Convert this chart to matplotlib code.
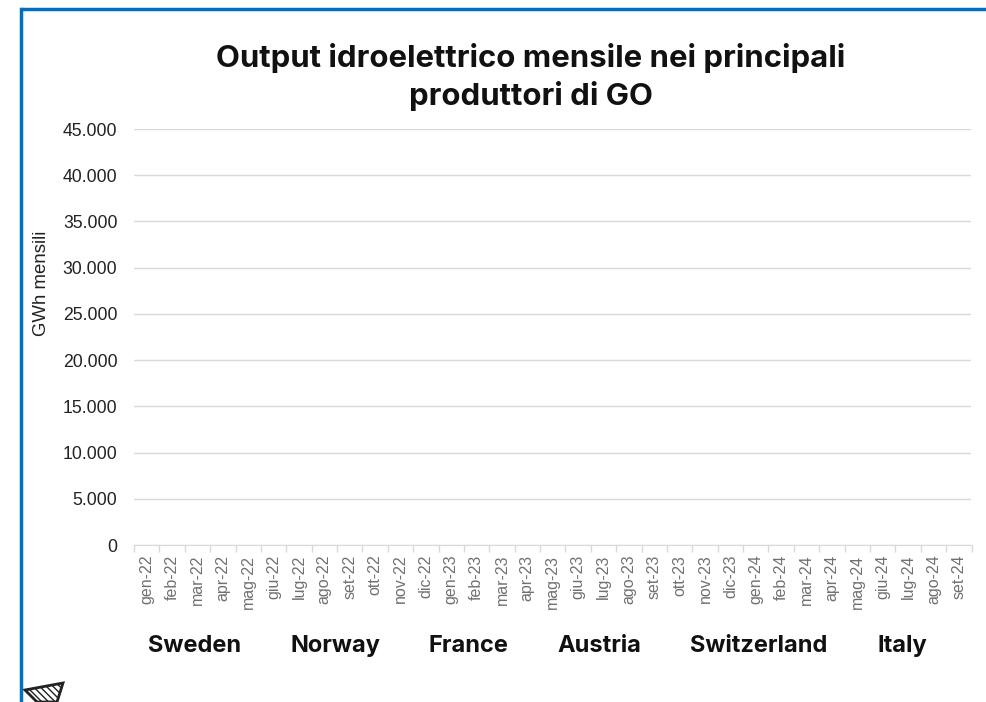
import matplotlib
matplotlib.use('Agg')
import matplotlib.pyplot as plt
from matplotlib.lines import Line2D
from matplotlib.patches import Polygon

W = 987
H = 702

months = ['gen-22', 'feb-22', 'mar-22', 'apr-22', 'mag-22', 'giu-22', 'lug-22', 'ago-22', 'set-22',
          'ott-22', 'nov-22', 'dic-22', 'gen-23', 'feb-23', 'mar-23', 'apr-23', 'mag-23', 'giu-23',
          'lug-23', 'ago-23', 'set-23', 'ott-23', 'nov-23', 'dic-23', 'gen-24', 'feb-24', 'mar-24',
          'apr-24', 'mag-24', 'giu-24', 'lug-24', 'ago-24', 'set-24']
y_ticks = [0, 5000, 10000, 15000, 20000, 25000, 30000, 35000, 40000, 45000]
y_labels = ['0', '5.000', '10.000', '15.000', '20.000', '25.000', '30.000', '35.000', '40.000', '45.000']
countries = ['Sweden', 'Norway', 'France', 'Austria', 'Switzerland', 'Italy']
country_x = [195, 336, 468, 599, 759, 902]  # pixel centres of the labels

fig = plt.figure(figsize=(W/100, H/100), dpi=100)
ax = fig.add_axes([134/W, 1 - 545/H, (971.5 - 134)/W, (545 - 129)/H])

# no series visible in the chart, only the empty axes
ax.set_xlim(-0.5, len(months) - 0.5)
ax.set_ylim(0, 45000)
ax.set_yticks(y_ticks)
ax.set_yticklabels(y_labels, fontsize=12.7, family='Liberation Sans', color='#222222')
ax.set_xticks(range(len(months)))
ax.set_xticklabels(months, rotation=90, fontsize=11.5, family='Liberation Sans', color='#707070')
ax.tick_params(axis='y', length=0, pad=12)
ax.tick_params(axis='x', length=0, pad=7)
# tick marks sit between the months
ax.set_xticks([i - 0.5 for i in range(len(months) + 1)], minor=True)
ax.tick_params(axis='x', which='minor', length=5, width=1, color='#d9d9d9')
ax.grid(axis='y', color='#d9d9d9', lw=1)
ax.set_axisbelow(True)
for s in ['top', 'left', 'right']:
    ax.spines[s].set_visible(False)
ax.spines['bottom'].set_color('#d9d9d9')
ax.set_ylabel('GWh mensili', fontsize=13.4, family='Liberation Sans', color='#222222', va='center')
ax.yaxis.set_label_coords((41 - 134)/(971.5 - 134), (545 - 283)/(545 - 129))

fig.text(531/W, 1 - 67/H, 'Output idroelettrico mensile nei principali', ha='center', va='baseline',
         fontsize=22.4, fontweight='bold', family='Inter', color='#111111')
fig.text(531/W, 1 - 105/H, 'produttori di GO', ha='center', va='baseline',
         fontsize=22.4, fontweight='bold', family='Inter', color='#111111')
for name, x in zip(countries, country_x):
    fig.text(x/W, 1 - 652/H, name, ha='center', va='baseline', fontsize=17, fontweight='bold',
             family='Inter', color='#111111')

# blue frame, left and top only are in view
blue = '#0070c0'
fig.add_artist(Line2D([20.5/W, 20.5/W], [0, 1 - 9/H], color=blue, lw=2.5, solid_capstyle='projecting'))
fig.add_artist(Line2D([20.5/W, 1], [1 - 9/H, 1 - 9/H], color=blue, lw=2.5, solid_capstyle='butt'))

# cut off icon at the bottom left
icon = [(25/W, 1 - 690/H), (63/W, 1 - 683/H), (57/W, 0), (37/W, 0)]
fig.add_artist(Polygon(icon, closed=True, transform=fig.transFigure, facecolor='white', edgecolor='#222222',
                       lw=2, hatch='\\\\\\\\\\'))

fig.savefig('out.png', dpi=100)
